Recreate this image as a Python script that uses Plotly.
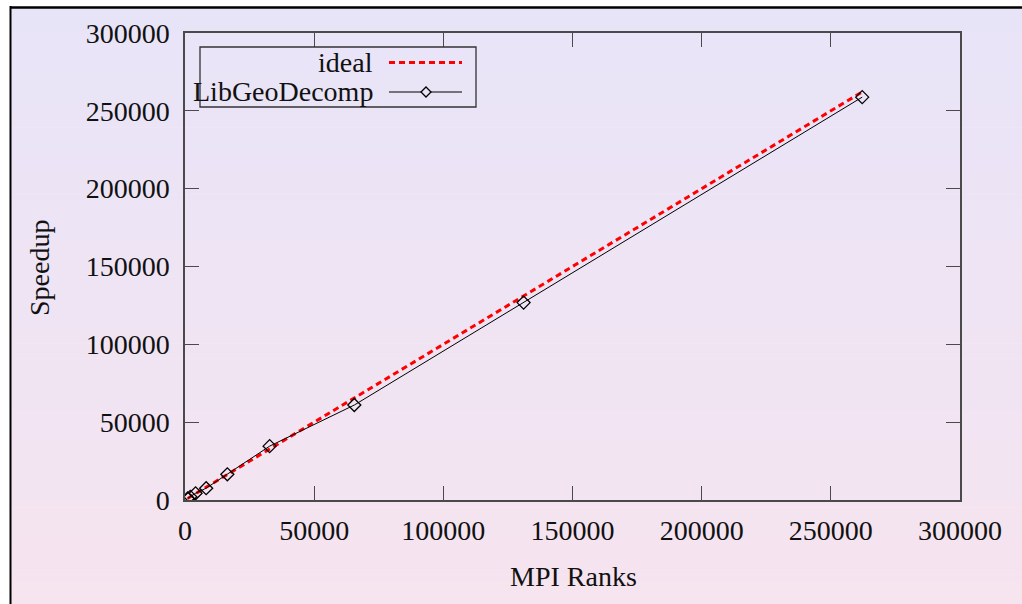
import plotly.graph_objects as go

# ---- data ----
mpi_ranks = [1024, 2048, 4096, 8192, 16384, 32768, 65536, 131072, 262144]
ideal_speedup = [1024, 2048, 4096, 8192, 16384, 32768, 65536, 131072, 262144]
libgeodecomp_speedup = [1000, 2050, 4300, 7600, 16500, 34600, 61000, 126800, 258800]
tick_values = [0, 50000, 100000, 150000, 200000, 250000, 300000]
tick_labels = ["0", "50000", "100000", "150000", "200000", "250000", "300000"]

W, H = 1022, 604
L, R, T, B = 185, 960, 33, 500  # plot area in pixels

def px(x):
    return (x - L) / (R - L)

def py(y):
    return (B - y) / (B - T)

FONT = "Liberation Serif"
FS = 28
AXC = "#4a4a4a"

fig = go.Figure()
fig.add_trace(go.Scatter(
    x=mpi_ranks, y=ideal_speedup, mode="lines", name="ideal",
    line=dict(color="#ff0000", width=3, dash="6px,4px"), showlegend=False))
fig.add_trace(go.Scatter(
    x=mpi_ranks, y=libgeodecomp_speedup, mode="lines+markers", name="LibGeoDecomp",
    line=dict(color="#000000", width=1),
    marker=dict(symbol="diamond-open", size=10, color="#000000", line=dict(width=1.3)),
    showlegend=False))

shapes = []
# gradient background (bands)
top_c = (232, 228, 248)
bot_c = (246, 228, 239)
y_top, y_bot = 8, 604
n = 80
for i in range(n):
    f = (i + 0.5) / n
    c = tuple(round(top_c[k] + (bot_c[k] - top_c[k]) * f) for k in range(3))
    ya = y_top + (y_bot - y_top) * i / n
    yb = y_top + (y_bot - y_top) * (i + 1) / n + 0.6
    shapes.append(dict(type="rect", xref="paper", yref="paper", layer="below",
                       x0=px(11), x1=px(W + 2), y0=py(ya), y1=py(yb),
                       fillcolor="rgb(%d,%d,%d)" % c, line=dict(width=0)))
# outer frame (left and top edges)
shapes.append(dict(type="line", xref="paper", yref="paper", x0=px(10.5), x1=px(10.5),
                   y0=py(6), y1=py(W), line=dict(color="black", width=2)))
shapes.append(dict(type="line", xref="paper", yref="paper", x0=px(10), x1=px(W + 2),
                   y0=py(7.5), y1=py(7.5), line=dict(color="black", width=2.5)))
# legend box
shapes.append(dict(type="rect", xref="paper", yref="paper",
                   x0=px(200), x1=px(476), y0=py(107), y1=py(47),
                   line=dict(color="#333333", width=1.3)))
# legend samples
shapes.append(dict(type="line", xref="paper", yref="paper", x0=px(389), x1=px(462),
                   y0=py(62.5), y1=py(62.5),
                   line=dict(color="#ff0000", width=3, dash="6px,4px")))
shapes.append(dict(type="line", xref="paper", yref="paper", x0=px(389), x1=px(462),
                   y0=py(92), y1=py(92), line=dict(color="black", width=1)))
cx, cy, d = 426, 92, 5
path = "M %f %f L %f %f L %f %f L %f %f Z" % (
    px(cx - d), py(cy), px(cx), py(cy - d), px(cx + d), py(cy), px(cx), py(cy + d))
shapes.append(dict(type="path", xref="paper", yref="paper", path=path,
                   fillcolor="rgb(233,228,247)", line=dict(color="black", width=1.3)))

annotations = [
    dict(text="ideal", xref="paper", yref="paper", x=px(375), y=py(62),
         xanchor="right", yanchor="middle", showarrow=False,
         font=dict(family=FONT, size=FS, color="#111111")),
    dict(text="LibGeoDecomp", xref="paper", yref="paper", x=px(375), y=py(91),
         xanchor="right", yanchor="middle", showarrow=False,
         font=dict(family=FONT, size=FS, color="#111111")),
    dict(text="MPI Ranks", xref="paper", yref="paper", x=px(573), y=py(576),
         xanchor="center", yanchor="middle", showarrow=False,
         font=dict(family=FONT, size=FS, color="#111111")),
    dict(text="Speedup", xref="paper", yref="paper", x=px(39), y=py(268),
         xanchor="center", yanchor="middle", showarrow=False, textangle=-90,
         font=dict(family=FONT, size=FS, color="#111111")),
]

axis_common = dict(
    range=[0, 300000], tickvals=tick_values, ticktext=tick_labels,
    showline=True, mirror="ticks", linecolor=AXC, linewidth=1.5,
    ticks="inside", ticklen=14, tickcolor=AXC, tickwidth=1.3,
    showgrid=False, zeroline=False,
    tickfont=dict(family=FONT, size=FS, color="#111111"),
)

fig.update_layout(
    width=W, height=H,
    margin=dict(l=L, r=W - R, t=T, b=H - B, pad=0),
    paper_bgcolor="white", plot_bgcolor="rgba(0,0,0,0)",
    xaxis=dict(**axis_common, ticklabelstandoff=5),
    yaxis=dict(**axis_common, ticklabelstandoff=8),
    shapes=shapes, annotations=annotations, showlegend=False,
)

fig.write_html("out.html")
